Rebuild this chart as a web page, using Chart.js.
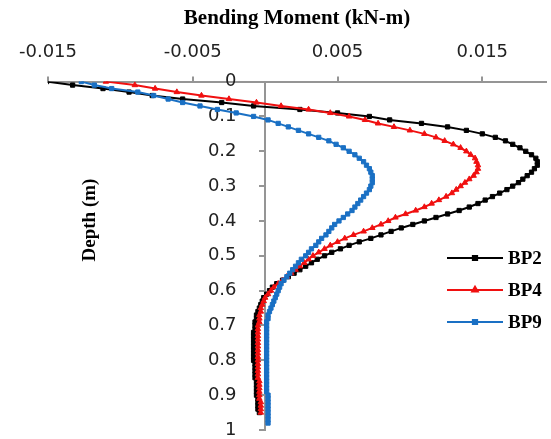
<html>
  <head>
    <script src="https://cdn.jsdelivr.net/npm/chart.js@4.4.1/dist/chart.umd.min.js"></script>
    <style>
      body {
        margin: 0;
        background: #fff;
        overflow: hidden;
      }
    </style>
  </head>

  <body>
    <canvas id="moment" width="551" height="439"></canvas>

    <script>
      // depth below ground (m), one reading every 10 mm
      const depth = [
        0.00, 0.01, 0.02, 0.03, 0.04, 0.05, 0.06, 0.07, 0.08, 0.09,
        0.10, 0.11, 0.12, 0.13, 0.14, 0.15, 0.16, 0.17, 0.18, 0.19,
        0.20, 0.21, 0.22, 0.23, 0.24, 0.25, 0.26, 0.27, 0.28, 0.29,
        0.30, 0.31, 0.32, 0.33, 0.34, 0.35, 0.36, 0.37, 0.38, 0.39,
        0.40, 0.41, 0.42, 0.43, 0.44, 0.45, 0.46, 0.47, 0.48, 0.49,
        0.50, 0.51, 0.52, 0.53, 0.54, 0.55, 0.56, 0.57, 0.58, 0.59,
        0.60, 0.61, 0.62, 0.63, 0.64, 0.65, 0.66, 0.67, 0.68, 0.69,
        0.70, 0.71, 0.72, 0.73, 0.74, 0.75, 0.76, 0.77, 0.78, 0.79,
        0.80, 0.81, 0.82, 0.83, 0.84, 0.85, 0.86, 0.87, 0.88, 0.89,
        0.90, 0.91, 0.92, 0.93, 0.94, 0.95, 0.96, 0.97, 0.98,
      ];

      // bending moment (kN-m) at each depth
      const bp2 = [
        -0.0151, -0.0133, -0.0112, -0.0094, -0.0078, -0.0057, -0.0030, -0.0008, 0.0024, 0.0050,
        0.0072, 0.0086, 0.0108, 0.0126, 0.0139, 0.0150, 0.0159, 0.0166, 0.0171, 0.0176,
        0.0180, 0.0184, 0.0187, 0.0188, 0.0188, 0.0186, 0.0184, 0.0181, 0.0178, 0.0175,
        0.0171, 0.0167, 0.0162, 0.0157, 0.0152, 0.0147, 0.0141, 0.0134, 0.0126, 0.0118,
        0.0110, 0.0102, 0.0094, 0.0087, 0.0080, 0.0073, 0.0065, 0.0058, 0.0052, 0.0046,
        0.0041, 0.0036, 0.0032, 0.0028, 0.0024, 0.0020, 0.0016, 0.0012, 0.0008, 0.0005,
        0.0003, 0.0001, -0.0001, -0.0002, -0.0003, -0.0004, -0.0005, -0.0006, -0.0006, -0.0007,
        -0.0007, -0.0007, -0.0008, -0.0008, -0.0008, -0.0008, -0.0008, -0.0008, -0.0008, -0.0008,
        -0.0008, -0.0007, -0.0007, -0.0007, -0.0007, -0.0007, -0.0006, -0.0006, -0.0006, -0.0006,
        -0.0006, -0.0005, -0.0005, -0.0005, -0.0005, -0.0004,
      ];
      const bp4 = [
        -0.0110, -0.0090, -0.0076, -0.0061, -0.0044, -0.0025, -0.0006, 0.0011, 0.0030, 0.0045,
        0.0058, 0.0069, 0.0078, 0.0089, 0.0100, 0.0110, 0.0118, 0.0124, 0.0130, 0.0135,
        0.0139, 0.0142, 0.0145, 0.0146, 0.0147, 0.0147, 0.0146, 0.0144, 0.0141, 0.0138,
        0.0135, 0.0132, 0.0129, 0.0125, 0.0120, 0.0115, 0.0110, 0.0104, 0.0097, 0.0090,
        0.0085, 0.0080, 0.0074, 0.0068, 0.0061, 0.0055, 0.0050, 0.0045, 0.0041, 0.0037,
        0.0033, 0.0030, 0.0027, 0.0024, 0.0021, 0.0018, 0.0015, 0.0012, 0.0009, 0.0006,
        0.0004, 0.0002, 0.0000, -0.0001, -0.0002, -0.0003, -0.0003, -0.0004, -0.0004, -0.0004,
        -0.0005, -0.0005, -0.0005, -0.0005, -0.0005, -0.0005, -0.0005, -0.0005, -0.0005, -0.0005,
        -0.0005, -0.0005, -0.0005, -0.0005, -0.0005, -0.0005, -0.0004, -0.0004, -0.0004, -0.0004,
        -0.0004, -0.0004, -0.0003, -0.0003, -0.0003, -0.0003,
      ];
      const bp9 = [
        -0.0127, -0.0118, -0.0106, -0.0088, -0.0077, -0.0067, -0.0057, -0.0045, -0.0033, -0.0020,
        -0.0008, 0.0002, 0.0009, 0.0016, 0.0023, 0.0030, 0.0037, 0.0044, 0.0049, 0.0054,
        0.0058, 0.0062, 0.0065, 0.0068, 0.0070, 0.0072, 0.0073, 0.0074, 0.0074, 0.0074,
        0.0073, 0.0072, 0.0070, 0.0068, 0.0066, 0.0064, 0.0062, 0.0060, 0.0057, 0.0054,
        0.0051, 0.0048, 0.0046, 0.0044, 0.0042, 0.0039, 0.0037, 0.0035, 0.0032, 0.0030,
        0.0028, 0.0025, 0.0023, 0.0021, 0.0019, 0.0017, 0.0015, 0.0013, 0.0011, 0.0010,
        0.0009, 0.0008, 0.0007, 0.0006, 0.0005, 0.0004, 0.0003, 0.0002, 0.0002, 0.0001,
        0.0001, 0.0001, 0.0001, 0.0001, 0.0001, 0.0001, 0.0001, 0.0001, 0.0001, 0.0001,
        0.0001, 0.0001, 0.0001, 0.0001, 0.0001, 0.0001, 0.0001, 0.0001, 0.0001, 0.0001,
        0.0002, 0.0002, 0.0002, 0.0002, 0.0002, 0.0002, 0.0002, 0.0002, 0.0002,
      ];

      const x_ticks = [-0.015, -0.005, 0.005, 0.015];

      const series = [
        { label: "BP2", values: bp2, color: "#000000", style: "rect", radius: 3, order: 3 },
        { label: "BP4", values: bp4, color: "#f01010", style: "triangle", radius: 3.2, order: 2 },
        { label: "BP9", values: bp9, color: "#1a70c4", style: "rect", radius: 3, order: 1 },
      ];

      const serif = "'Liberation Serif', 'Times New Roman', serif";
      const sans = "'DejaVu Sans', Verdana, sans-serif";
      const axis_grey = "#959595";

      // y-axis title sits well left of the axis, so draw it by hand
      const depth_title = {
        id: "depth_title",
        afterDraw: (chart, args, opts) => {
          const ctx = chart.ctx;
          ctx.save();
          ctx.translate(opts.x, opts.y);
          ctx.rotate(-Math.PI / 2);
          ctx.font = `bold 19px ${serif}`;
          ctx.fillStyle = "#000";
          ctx.textAlign = "center";
          ctx.textBaseline = "middle";
          ctx.fillText(opts.text, 0, 0);
          ctx.restore();
        },
      };

      // legend drawn inside the plot, lower right
      const inner_legend = {
        id: "inner_legend",
        afterDraw: (chart, args, opts) => {
          const ctx = chart.ctx;
          ctx.save();
          chart.data.datasets.forEach((ds, i) => {
            const y = opts.top + i * opts.spacing;
            ctx.strokeStyle = ds.borderColor;
            ctx.lineWidth = 2;
            ctx.beginPath();
            ctx.moveTo(opts.left, y);
            ctx.lineTo(opts.left + opts.lineLength, y);
            ctx.stroke();
            ctx.fillStyle = ds.pointBackgroundColor;
            ctx.strokeStyle = ds.pointBorderColor;
            Chart.helpers.drawPoint(
              ctx,
              { pointStyle: ds.pointStyle, radius: ds.pointRadius, rotation: 0, borderWidth: 1 },
              opts.left + opts.lineLength / 2,
              y
            );
            ctx.font = `bold 19px ${serif}`;
            ctx.fillStyle = "#000";
            ctx.textAlign = "left";
            ctx.textBaseline = "middle";
            ctx.fillText(ds.label, opts.left + opts.lineLength + 5, y + 1);
          });
          ctx.restore();
        },
      };

      const ctx = document.getElementById("moment").getContext("2d");
      const chart = new Chart(ctx, {
        type: "scatter",
        data: {
          datasets: series.map((s) => ({
            label: s.label,
            data: s.values.map((v, i) => ({ x: v, y: depth[i] })),
            showLine: true,
            borderColor: s.color,
            backgroundColor: s.color,
            borderWidth: 2,
            pointStyle: s.style,
            pointRadius: s.radius,
            pointBackgroundColor: s.color,
            pointBorderColor: s.color,
            pointBorderWidth: 1,
            order: s.order,
          })),
        },
        options: {
          responsive: false,
          animation: false,
          layout: { padding: { left: 48, right: 0, top: 0, bottom: 9 } },
          plugins: {
            legend: { display: false },
            tooltip: { enabled: false },
            depth_title: { text: "Depth (m)", x: 90, y: 220 },
            inner_legend: { left: 447, top: 258, spacing: 32, lineLength: 56 },
          },
          scales: {
            x: {
              type: "linear",
              position: "top",
              min: -0.015,
              max: 0.0194,
              afterBuildTicks: (scale) => {
                scale.ticks = x_ticks.map((v) => ({ value: v }));
              },
              ticks: {
                font: { family: sans, size: 18 },
                color: "#222",
                padding: 13,
                maxRotation: 0,
                callback: (value) => String(value),
              },
              grid: {
                drawOnChartArea: false,
                tickLength: 5,
                lineWidth: 2,
                color: axis_grey,
              },
              border: { width: 2, color: axis_grey },
              title: {
                display: true,
                text: "Bending Moment (kN-m)",
                font: { family: serif, weight: "bold", size: 21, lineHeight: 1 },
                color: "#000",
                padding: { top: 8, bottom: 0 },
              },
            },
            y: {
              type: "linear",
              position: { x: 0 },
              reverse: true,
              min: 0,
              max: 1,
              ticks: {
                stepSize: 0.1,
                font: { family: sans, size: 18, lineHeight: 1 },
                color: "#222",
                padding: 0,
                // labels of an axis placed at x = 0 end right on the line, so pad them
                callback: (value) => String(Math.round(value * 10) / 10) + "     ",
              },
              grid: {
                drawOnChartArea: false,
                tickLength: 5,
                lineWidth: 2,
                color: axis_grey,
              },
              border: { width: 2, color: axis_grey },
            },
          },
        },
        plugins: [depth_title, inner_legend],
      });
    </script>
  </body>
</html>
